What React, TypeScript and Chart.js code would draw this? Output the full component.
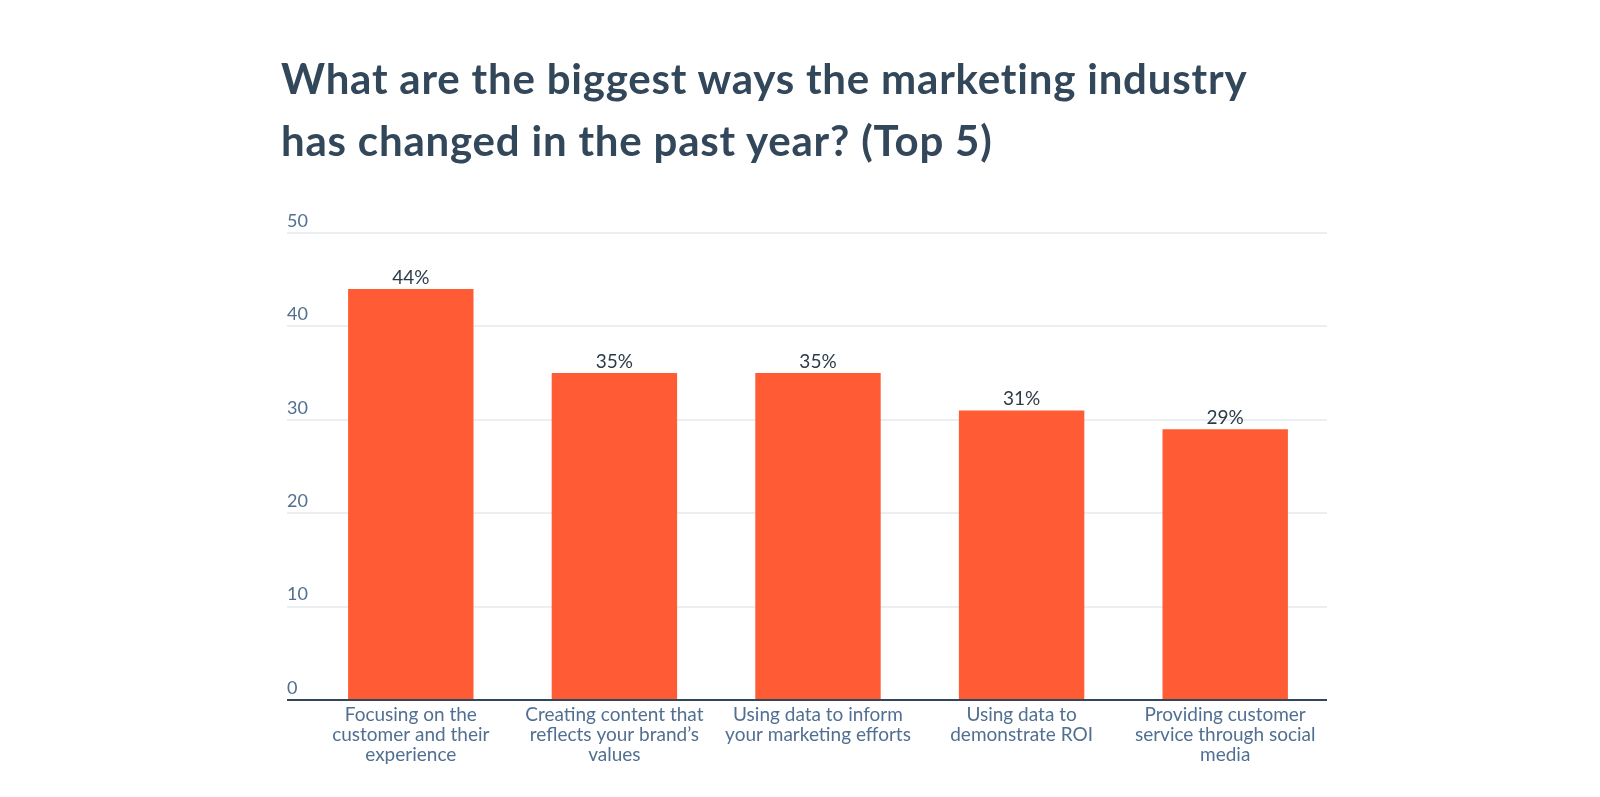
import { useEffect, useRef } from "react";
import { Chart, registerables } from "chart.js";
Chart.register(...registerables);

const titleLines = [
  "What are the biggest ways the marketing industry",
  "has changed in the past year? (Top 5)",
];
const categories = [
  ["Focusing on the", "customer and their", "experience"],
  ["Creating content that", "reflects your brand’s", "values"],
  ["Using data to inform", "your marketing efforts"],
  ["Using data to", "demonstrate ROI"],
  ["Providing customer", "service through social", "media"],
];
const shares = [44, 35, 35, 31, 29];
const yTicks = [0, 10, 20, 30, 40, 50];

const FONT = "Lato, 'Open Sans', sans-serif";

// percent labels above each bar
const valueLabels = {
  id: "valueLabels",
  afterDatasetsDraw(chart: Chart) {
    const { ctx } = chart;
    const meta = chart.getDatasetMeta(0);
    ctx.save();
    ctx.font = `19px ${FONT}`;
    ctx.fillStyle = "#2d3b48";
    ctx.textAlign = "center";
    ctx.textBaseline = "bottom";
    meta.data.forEach((bar: any, i: number) => {
      ctx.fillText(`${shares[i]}%`, bar.x, bar.y - 2);
    });
    ctx.restore();
  },
};

export default function App() {
  const ref = useRef<HTMLCanvasElement>(null);
  const chart = useRef<Chart | null>(null);

  useEffect(() => {
    if (!ref.current) return;
    if (chart.current) chart.current.destroy();

    chart.current = new Chart(ref.current, {
      type: "bar",
      data: {
        labels: categories,
        datasets: [
          {
            data: shares,
            backgroundColor: "#ff5c35",
            barPercentage: 0.616,
            categoryPercentage: 1,
          },
        ],
      },
      options: {
        responsive: true,
        maintainAspectRatio: false,
        animation: false,
        layout: { padding: { left: 287, right: 273, top: 233, bottom: 27 } },
        plugins: { legend: { display: false }, tooltip: { enabled: false } },
        scales: {
          x: {
            grid: { display: false },
            border: { display: false },
            ticks: {
              color: "#516f90",
              font: { family: FONT, size: 19, lineHeight: 1.04 },
              padding: -3,
              maxRotation: 0,
              autoSkip: false,
            },
            afterFit: (s: any) => { s.height = 70; },
          },
          y: {
            min: 0,
            max: 50,
            afterBuildTicks: (s: any) => { s.ticks = yTicks.map(v => ({ value: v })); },
            border: { display: false },
            grid: {
              color: (c: any) => (c.tick && c.tick.value === 0 ? "#33475b" : "#eceff2"),
              lineWidth: 2,
              tickLength: 22,
              drawTicks: true,
            },
            ticks: {
              color: "#516f90",
              font: { family: FONT, size: 18 },
              crossAlign: "far",
              padding: 0,
              labelOffset: -12,
            },
            afterFit: (s: any) => { s.width = 22; },
          },
        },
      },
      plugins: [valueLabels],
    });

    return () => chart.current?.destroy();
  }, []);

  return (
    <div style={{ position: "fixed", inset: 0, background: "#fff" }}>
      <div
        style={{
          position: "absolute",
          left: 281,
          top: 48,
          fontFamily: FONT,
          fontWeight: 700,
          fontSize: 42,
          letterSpacing: "0.8px",
          lineHeight: "61.5px",
          color: "#33475b",
          whiteSpace: "nowrap",
        }}
      >
        {titleLines.map(l => <div key={l}>{l}</div>)}
      </div>
      <canvas ref={ref} />
    </div>
  );
}
